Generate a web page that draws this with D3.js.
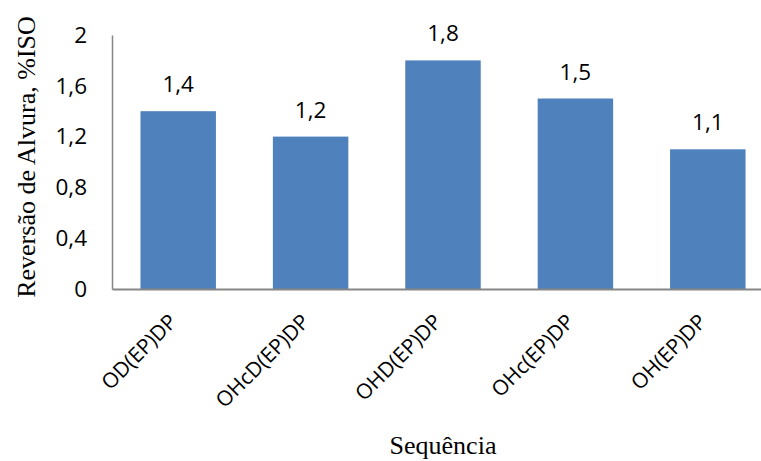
<!DOCTYPE html>
<html>
<head>
<meta charset="utf-8">
<script src="https://cdn.jsdelivr.net/npm/d3@7"></script>
<style>
  body { margin: 0; background: #fff; }
  svg { display: block; }
</style>
</head>
<body>
<svg id="chart" width="761" height="461"></svg>
<script>
// Bleaching sequences and their brightness reversion (%ISO)
const categories = ["OD(EP)DP", "OHcD(EP)DP", "OHD(EP)DP", "OHc(EP)DP", "OH(EP)DP"];
const values = [1.4, 1.2, 1.8, 1.5, 1.1];
const yTicks = [0, 0.4, 0.8, 1.2, 1.6, 2];

const svg = d3.select("#chart");
const fmt = v => String(v).replace(".", ",");

const x = d3.scaleBand().domain(categories).range([112, 774]).paddingInner(0.43).paddingOuter(0.215);
const y = d3.scaleLinear().domain([0, 2]).range([289, 35]);

const sans = "'Open Sans', 'Liberation Sans', sans-serif";
const serif = "'Liberation Serif', 'Times New Roman', serif";

// Bars
svg.append("g").selectAll("rect").data(values).join("rect")
  .attr("x", (d, i) => x(categories[i]))
  .attr("y", d => y(d))
  .attr("width", x.bandwidth())
  .attr("height", d => y(0) - y(d))
  .attr("fill", "#4F81BD");

// Value labels
svg.append("g").selectAll("text").data(values).join("text")
  .attr("x", (d, i) => x(categories[i]) + x.bandwidth() / 2)
  .attr("y", d => y(d) - 19)
  .attr("text-anchor", "middle")
  .attr("font-family", sans).attr("font-size", 22.5).attr("fill", "#000")
  .text(fmt);

// Y axis
const yAxis = svg.append("g").attr("transform", "translate(112,0)")
  .call(d3.axisLeft(y).tickValues(yTicks).tickFormat(fmt).tickSize(0).tickPadding(25));
yAxis.select(".domain").attr("stroke", "#868686").attr("stroke-width", 1.5);
yAxis.selectAll("text").attr("font-family", sans).attr("font-size", 22.5).attr("fill", "#000");

// X axis with diagonal category labels
const xAxis = svg.append("g").attr("transform", "translate(0,289)")
  .call(d3.axisBottom(x).tickSize(0).tickPadding(0));
xAxis.select(".domain").attr("stroke", "#868686").attr("stroke-width", 2);
xAxis.selectAll("text")
  .attr("font-family", sans).attr("font-size", 21).attr("fill", "#000")
  .attr("text-anchor", "end")
  .attr("y", 0)
  .attr("dy", null)
  .attr("transform", "translate(0,34) rotate(-45)");

// Axis titles
svg.append("text")
  .attr("transform", "translate(35,157) rotate(-90)")
  .attr("text-anchor", "middle")
  .attr("font-family", serif).attr("font-size", 26).attr("fill", "#000")
  .text("Reversão de Alvura, %ISO");

svg.append("text")
  .attr("x", 443).attr("y", 454)
  .attr("text-anchor", "middle")
  .attr("font-family", serif).attr("font-size", 26).attr("fill", "#000")
  .text("Sequência");
</script>
</body>
</html>
